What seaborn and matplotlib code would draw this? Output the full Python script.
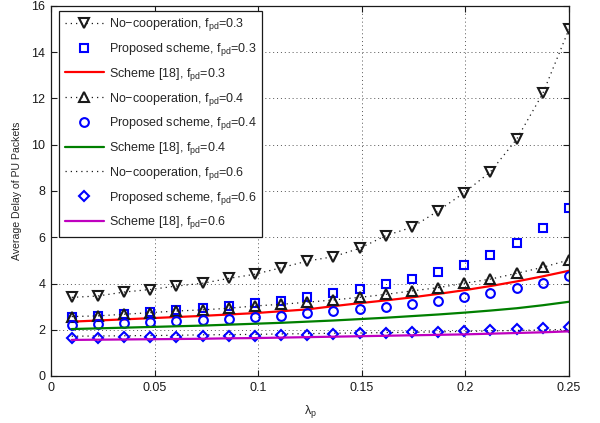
import numpy as np
import pandas as pd
import seaborn as sns
import matplotlib
matplotlib.use("Agg")
import matplotlib.pyplot as plt
from matplotlib.ticker import FuncFormatter

# ---------------- data ----------------
lam = np.linspace(0.01, 0.25, 20)

nocoop_03 = [3.40, 3.46, 3.63, 3.74, 3.89, 4.01, 4.22, 4.40, 4.68, 4.97,
             5.16, 5.52, 6.07, 6.43, 7.14, 7.93, 8.83, 10.24, 12.22, 15.00]
prop_03 = [2.57, 2.60, 2.70, 2.78, 2.87, 2.94, 3.03, 3.15, 3.26, 3.42,
           3.58, 3.75, 3.96, 4.19, 4.48, 4.82, 5.22, 5.74, 6.39, 7.28]
ref18_03 = [2.35, 2.40, 2.45, 2.50, 2.55, 2.60, 2.66, 2.72, 2.80, 2.88,
            3.02, 3.15, 3.27, 3.40, 3.55, 3.71, 3.89, 4.09, 4.31, 4.55]

nocoop_04 = [2.57, 2.60, 2.67, 2.74, 2.81, 2.86, 2.93, 3.03, 3.10, 3.19,
             3.29, 3.40, 3.53, 3.68, 3.82, 4.01, 4.19, 4.44, 4.70, 5.02]
prop_04 = [2.20, 2.25, 2.28, 2.32, 2.38, 2.42, 2.46, 2.54, 2.61, 2.71,
           2.81, 2.88, 3.00, 3.11, 3.26, 3.40, 3.60, 3.79, 4.04, 4.34]
ref18_04 = [2.03, 2.06, 2.09, 2.12, 2.15, 2.18, 2.22, 2.26, 2.30, 2.35,
            2.40, 2.46, 2.52, 2.59, 2.66, 2.74, 2.83, 2.93, 3.06, 3.21]

nocoop_06 = [1.72, 1.73, 1.74, 1.75, 1.76, 1.78, 1.79, 1.80, 1.82, 1.83,
             1.85, 1.86, 1.88, 1.89, 1.91, 1.93, 1.95, 1.97, 1.99, 2.02]
prop_06 = [1.65, 1.66, 1.67, 1.68, 1.70, 1.71, 1.73, 1.74, 1.76, 1.79,
           1.82, 1.85, 1.87, 1.89, 1.92, 1.96, 1.99, 2.03, 2.07, 2.11]
ref18_06 = [1.56, 1.57, 1.58, 1.59, 1.60, 1.61, 1.63, 1.64, 1.66, 1.68,
            1.70, 1.72, 1.74, 1.76, 1.78, 1.80, 1.83, 1.86, 1.89, 1.93]

x_ticks = [0, 0.05, 0.1, 0.15, 0.2, 0.25]
y_ticks = list(range(0, 17, 2))

labels = [
    "No\u2212cooperation, f$_{pd}$=0.3",
    "Proposed scheme, f$_{pd}$=0.3",
    "Scheme [18], f$_{pd}$=0.3",
    "No\u2212cooperation, f$_{pd}$=0.4",
    "Proposed scheme, f$_{pd}$=0.4",
    "Scheme [18], f$_{pd}$=0.4",
    "No\u2212cooperation, f$_{pd}$=0.6",
    "Proposed scheme, f$_{pd}$=0.6",
    "Scheme [18], f$_{pd}$=0.6",
]

# ---------------- style ----------------
sns.set_theme(style="ticks")
plt.rcParams["font.family"] = ["Liberation Sans", "DejaVu Sans"]
plt.rcParams["mathtext.default"] = "regular"

fig = plt.figure(figsize=(6.0, 4.23), dpi=100)
ax = fig.add_axes([51 / 600, 1 - 376 / 423, 518 / 600, 370 / 423])

dot = (0, (1, 3.2))
series = [
    (nocoop_03, dict(color="k", linestyle=dot, linewidth=0.9, marker="v",
                     markersize=7, markeredgecolor="k")),
    (prop_03, dict(color="#0000ff", linestyle="", marker="s",
                   markersize=5.5, markeredgecolor="#0000ff")),
    (ref18_03, dict(color="#ff0000", linestyle="-", linewidth=1.6, marker="")),
    (nocoop_04, dict(color="k", linestyle=dot, linewidth=0.9, marker="^",
                     markersize=7, markeredgecolor="k")),
    (prop_04, dict(color="#0000ff", linestyle="", marker="o",
                   markersize=6.3, markeredgecolor="#0000ff")),
    (ref18_04, dict(color="#007f00", linestyle="-", linewidth=1.6, marker="")),
    (nocoop_06, dict(color="k", linestyle=dot, linewidth=0.9, marker="")),
    (prop_06, dict(color="#0000ff", linestyle="", marker="D",
                   markersize=5.5, markeredgecolor="#0000ff")),
    (ref18_06, dict(color="#bf00bf", linestyle="-", linewidth=1.6, marker="")),
]

for (vals, kw), lab in zip(series, labels):
    df = pd.DataFrame({"lam": lam, "delay": vals})
    extra = {}
    if kw.get("marker"):
        extra = dict(markerfacecolor="none", markeredgewidth=1.5)
    sns.lineplot(data=df, x="lam", y="delay", ax=ax, label=lab,
                 legend=False, **kw, **extra)

ax.set_xlim(0, 0.25)
ax.set_ylim(0, 16)
ax.set_xticks(x_ticks)
ax.set_yticks(y_ticks)
ax.xaxis.set_major_formatter(FuncFormatter(lambda v, p: "%g" % round(v, 4)))
ax.yaxis.set_major_formatter(FuncFormatter(lambda v, p: "%g" % v))
ax.grid(True, linestyle=(0, (1, 3)), color="#555555", linewidth=0.7)
ax.tick_params(direction="in", length=4, width=0.8, top=True, right=True,
               labelsize=9, colors="k", pad=4)
for s in ax.spines.values():
    s.set_color("k")
    s.set_linewidth(0.9)
    s.set_visible(True)

ax.set_xlabel("$\\lambda_p$", fontsize=9, labelpad=7)
ax.set_ylabel("Average Delay of PU Packets", fontsize=7.6, labelpad=7)

leg = ax.legend(loc="upper left", bbox_to_anchor=(0.016, 0.987),
                borderaxespad=0, fontsize=9, fancybox=False, framealpha=1,
                edgecolor="k", handlelength=3.1, handletextpad=0.4,
                labelspacing=0.62, borderpad=0.45)
leg.get_frame().set_linewidth(0.9)

fig.savefig("out.png", dpi=100, facecolor="white")
